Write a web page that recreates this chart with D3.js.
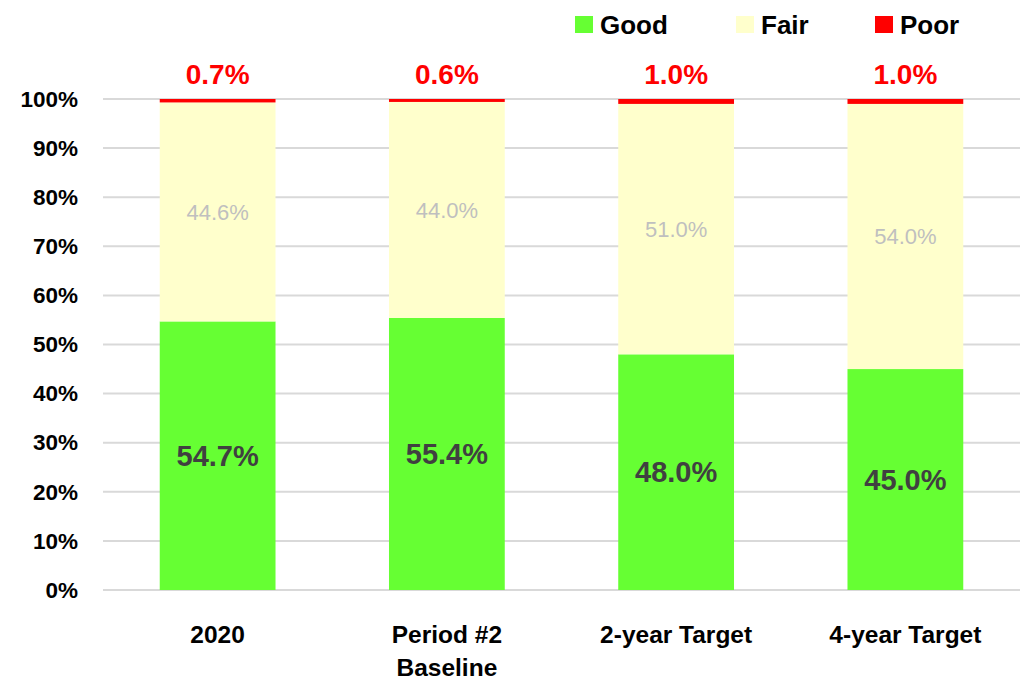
<!DOCTYPE html>
<html>
<head>
<meta charset="utf-8">
<script src="https://cdn.jsdelivr.net/npm/d3@7"></script>
<style>
  body { margin: 0; background: #fff; }
  svg text { font-family: "Liberation Sans", Arial, sans-serif; }
</style>
</head>
<body>
<div id="chart"></div>
<script>
// Chart values
var categories = [["2020"], ["Period #2", "Baseline"], ["2-year Target"], ["4-year Target"]];
var good = [54.7, 55.4, 48.0, 45.0];
var fair = [44.6, 44.0, 51.0, 54.0];
var poor = [0.7, 0.6, 1.0, 1.0];
var seriesNames = ["Good", "Fair", "Poor"];
var yTicks = [0, 10, 20, 30, 40, 50, 60, 70, 80, 90, 100];

var colors = {Good: "#66ff33", Fair: "#ffffcc", Poor: "#ff0000"};

var width = 1027, height = 682;
var margin = {top: 99, right: 7, bottom: 92, left: 103};

var svg = d3.select("#chart")
            .append("svg")
            .attr("width", width)
            .attr("height", height);

// Build rows for stacking
var rows = categories.map(function(c, i) {
  return {key: c.join(" "), lines: c, Good: good[i], Fair: fair[i], Poor: poor[i]};
});

var xScale = d3.scaleBand()
  .domain(rows.map(function(d) { return d.key; }))
  .range([margin.left, width - margin.right])
  .paddingInner(0.495)
  .paddingOuter(0.2475);

var yScale = d3.scaleLinear()
  .domain([0, 100])
  .range([height - margin.bottom, margin.top]);

// Gridlines
svg.append("g")
   .selectAll("line")
   .data(yTicks)
   .enter()
   .append("line")
   .attr("x1", margin.left)
   .attr("x2", width - margin.right)
   .attr("y1", function(d) { return yScale(d); })
   .attr("y2", function(d) { return yScale(d); })
   .style("stroke", "#d9d9d9")
   .style("stroke-width", 2);

// Y axis labels
var yAxis = d3.axisLeft(yScale)
              .tickValues(yTicks)
              .tickSize(0)
              .tickPadding(25)
              .tickFormat(function(d) { return d + "%"; });

var yAxisGroup = svg.append("g")
                    .attr("transform", "translate(" + margin.left + ",0)")
                    .call(yAxis);
yAxisGroup.select(".domain").remove();
yAxisGroup.selectAll("text")
          .style("font-size", "22.5px")
          .style("font-weight", "bold")
          .style("fill", "#000");

// Stacked bars
var stack = d3.stack().keys(seriesNames);
var layers = stack(rows);

svg.append("g")
   .selectAll("g")
   .data(layers)
   .enter()
   .append("g")
   .attr("fill", function(d) { return colors[d.key]; })
   .selectAll("rect")
   .data(function(d) { return d; })
   .enter()
   .append("rect")
   .attr("x", function(d) { return xScale(d.data.key); })
   .attr("width", xScale.bandwidth())
   .attr("y", function(d) { return yScale(d[1]); })
   .attr("height", function(d) { return yScale(d[0]) - yScale(d[1]); });

// Data labels
var labelStyle = {
  Good: {size: "29px", weight: "bold", fill: "#404040", dy: "0.35em"},
  Fair: {size: "22px", weight: "normal", fill: "#bfbfbf", dy: "0.35em"},
  Poor: {size: "28px", weight: "bold", fill: "#ff0000", dy: "0"}
};

layers.forEach(function(layer) {
  var s = labelStyle[layer.key];
  svg.append("g")
     .selectAll("text")
     .data(layer)
     .enter()
     .append("text")
     .attr("x", function(d) { return xScale(d.data.key) + xScale.bandwidth() / 2; })
     .attr("y", function(d) {
       if (layer.key === "Poor") return yScale(d[1]) - 15;
       return yScale((d[0] + d[1]) / 2);
     })
     .attr("text-anchor", "middle")
     .attr("dy", s.dy)
     .style("font-size", s.size)
     .style("font-weight", s.weight)
     .style("fill", s.fill)
     .text(function(d) { return (d[1] - d[0]).toFixed(1) + "%"; });
});

// X axis labels
var xLabels = svg.append("g")
                 .selectAll("text")
                 .data(rows)
                 .enter()
                 .append("text")
                 .attr("x", function(d) { return xScale(d.key) + xScale.bandwidth() / 2; })
                 .attr("y", height - margin.bottom + 53)
                 .attr("text-anchor", "middle")
                 .style("font-size", "24.5px")
                 .style("font-weight", "bold")
                 .style("fill", "#000");

xLabels.selectAll("tspan")
       .data(function(d) { return d.lines; })
       .enter()
       .append("tspan")
       .attr("x", function() { return this.parentNode.getAttribute("x"); })
       .attr("dy", function(d, i) { return i === 0 ? 0 : 33; })
       .text(function(d) { return d; });

// Legend
var legendX = [575, 736, 875];
var legend = svg.append("g")
                .selectAll("g")
                .data(seriesNames)
                .enter()
                .append("g")
                .attr("transform", function(d, i) { return "translate(" + legendX[i] + ",16)"; });

legend.append("rect")
      .attr("width", 18)
      .attr("height", 17)
      .attr("fill", function(d) { return colors[d]; });

legend.append("text")
      .attr("x", 25)
      .attr("y", 18)
      .style("font-size", "26px")
      .style("font-weight", "bold")
      .style("fill", "#000")
      .text(function(d) { return d; });
</script>
</body>
</html>
